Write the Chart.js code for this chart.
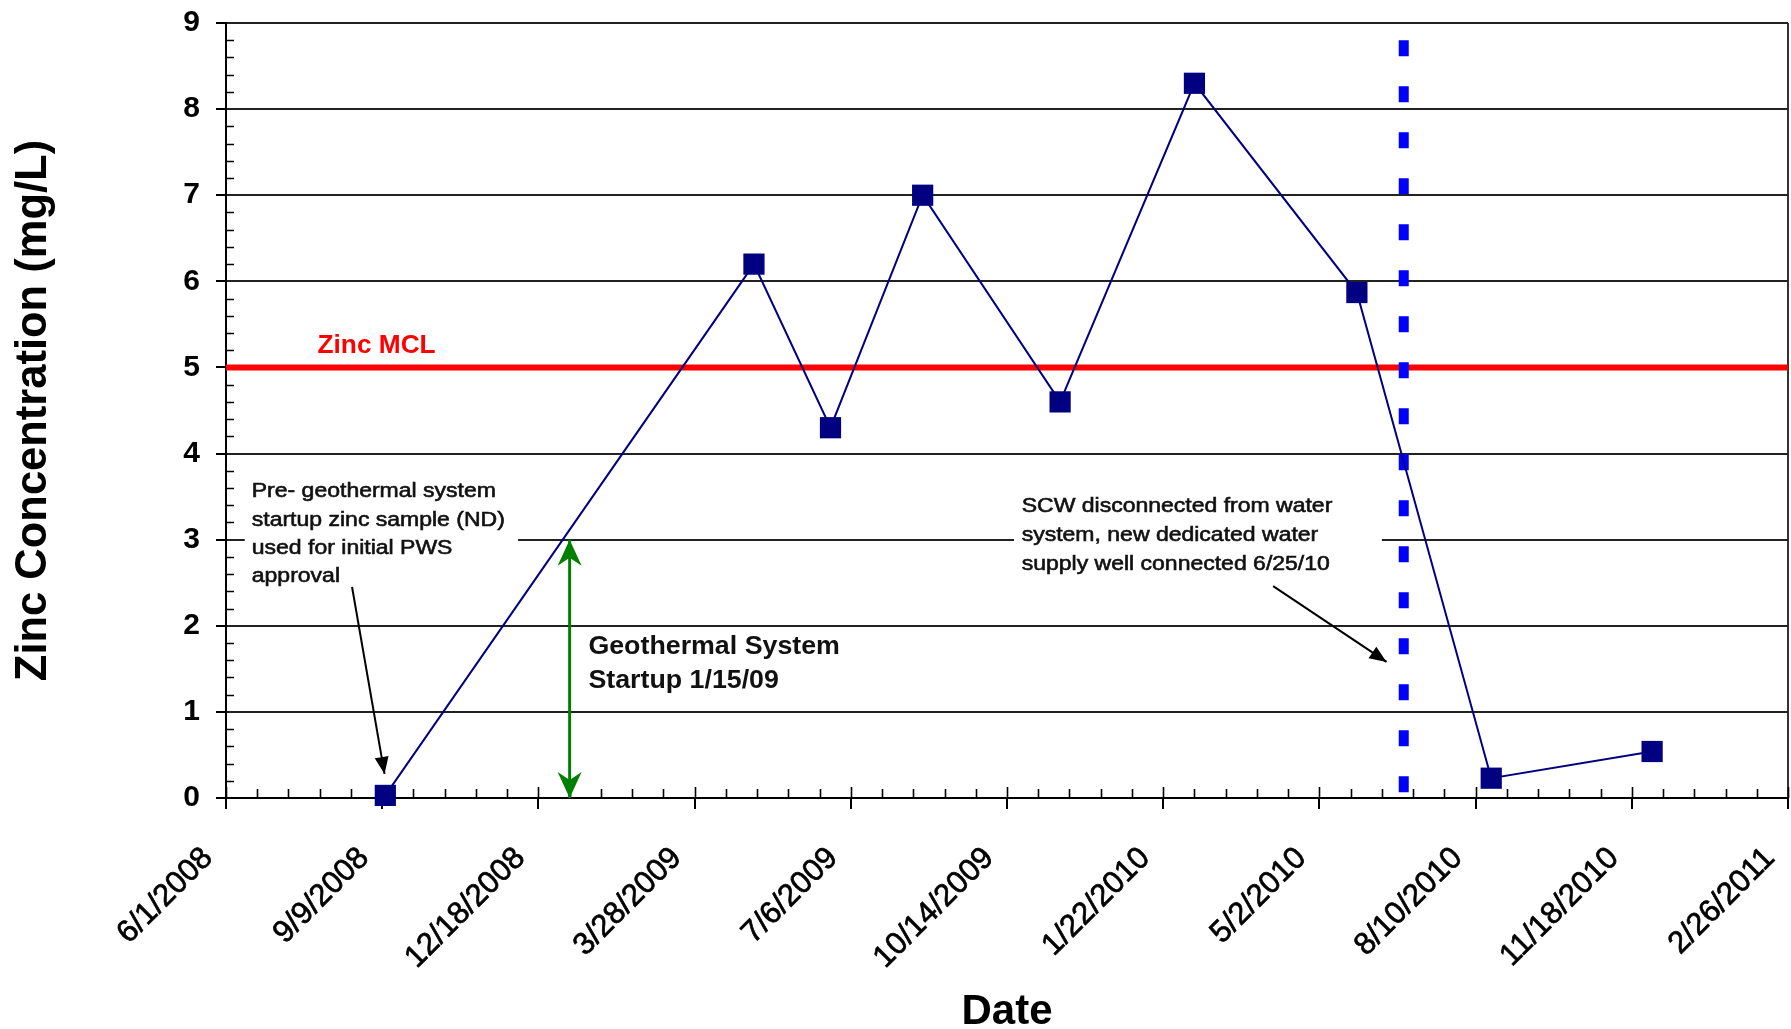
<!DOCTYPE html>
<html>
<head>
<meta charset="utf-8">
<title>Zinc Concentration</title>
<script src="https://cdn.jsdelivr.net/npm/chart.js@4.4.1/dist/chart.umd.min.js"></script>
<style>
	html, body { margin: 0; padding: 0; background: #fff; }
	#zincChart { display: block; }
</style>
</head>
<body>
<canvas id="zincChart" width="1791" height="1029"></canvas>
<script>
// sampling dates and zinc results (mg/L)
const sampleDates = ['9/11/2008', '5/5/2009', '6/23/2009', '8/21/2009', '11/17/2009', '2/11/2010', '5/26/2010', '8/20/2010', '12/1/2010'];
const zincValues = [0.03, 6.2, 4.3, 7.0, 4.6, 8.3, 5.87, 0.23, 0.54];

// axis ticks
const xTickDates = ['6/1/2008', '9/9/2008', '12/18/2008', '3/28/2009', '7/6/2009', '10/14/2009', '1/22/2010', '5/2/2010', '8/10/2010', '11/18/2010', '2/26/2011'];
const yTickValues = [0, 1, 2, 3, 4, 5, 6, 7, 8, 9];

// reference lines
const mclLevel = [5, 5];
const mclDates = ['6/1/2008', '2/26/2011'];
const startupDates = ['1/7/2009', '1/7/2009'];
const startupLevels = [0, 3];
const wellDates = ['6/25/2010', '6/25/2010'];
const wellLevels = [8.8, 0];

const FONT = "'Liberation Sans', Arial, sans-serif";
const ORIGIN = Date.UTC(2008, 5, 1);

function dayOf(s) {
	const [m, d, y] = s.split('/').map(Number);
	return (Date.UTC(y, m - 1, d) - ORIGIN) / 86400000;
}

function toPoints(dates, values) {
	return dates.map((d, i) => ({ x: dayOf(d), y: values[i] }));
}

function arrowHead(ctx, tx, ty, fx, fy, len, half, notch) {
	const a = Math.atan2(ty - fy, tx - fx);
	const c = Math.cos(a), s = Math.sin(a);
	const bx = tx - len * c, by = ty - len * s;
	ctx.beginPath();
	ctx.moveTo(tx, ty);
	ctx.lineTo(bx - half * s, by + half * c);
	ctx.lineTo(tx - (len - notch) * c, ty - (len - notch) * s);
	ctx.lineTo(bx + half * s, by - half * c);
	ctx.closePath();
	ctx.fill();
}

function drawLines(ctx, lines, px, py, gap, font, color, stretch, stroke) {
	ctx.font = font;
	ctx.fillStyle = color;
	ctx.strokeStyle = color;
	ctx.lineWidth = stroke;
	ctx.textAlign = 'left';
	ctx.textBaseline = 'alphabetic';
	lines.forEach((line, i) => {
		ctx.save();
		ctx.translate(px, py + i * gap);
		ctx.scale(stretch, 1);
		ctx.fillText(line, 0, 0);
		if (stroke) ctx.strokeText(line, 0, 0);
		ctx.restore();
	});
}

function noPadding(scale) {
	scale.paddingLeft = 0;
	scale.paddingRight = 0;
	scale.paddingTop = 0;
	scale.paddingBottom = 0;
}

const annotationPlugin = {
	id: 'zincAnnotations',
	beforeDatasetsDraw(chart) {
		const { ctx, scales: { x, y } } = chart;
		ctx.save();

		// white boxes behind the callouts
		ctx.fillStyle = '#fff';
		[[12, 3.78, 187, 2.39], [504.5, 3.58, 740, 2.53]].forEach(b => {
			const x0 = x.getPixelForValue(b[0]), y0 = y.getPixelForValue(b[1]);
			ctx.fillRect(x0, y0, x.getPixelForValue(b[2]) - x0, y.getPixelForValue(b[3]) - y0);
		});

		// minor and major tick marks inside the plot
		ctx.strokeStyle = '#000';
		ctx.lineWidth = 1.6;
		ctx.beginPath();
		for (let d = 0; d <= 1000; d += 20) {
			const px = Math.round(x.getPixelForValue(d)) + 0.5;
			ctx.moveTo(px, y.bottom);
			ctx.lineTo(px, y.bottom - (d % 100 === 0 ? 11 : 9));
		}
		for (let k = 1; k < 45; k++) {
			if (k % 5 === 0) continue;
			const py = Math.round(y.getPixelForValue(k / 5)) + 0.5;
			ctx.moveTo(x.left, py);
			ctx.lineTo(x.left + 8, py);
		}
		ctx.stroke();
		ctx.restore();
	},
	afterDatasetsDraw(chart) {
		const { ctx, scales: { x, y } } = chart;
		ctx.save();

		// green start-up arrow heads
		const gx = x.getPixelForValue(dayOf(startupDates[0]));
		const gTop = y.getPixelForValue(startupLevels[1]);
		const gBot = y.getPixelForValue(startupLevels[0]);
		ctx.fillStyle = '#008000';
		arrowHead(ctx, gx, gTop, gx, gBot, 26, 12, 8);
		arrowHead(ctx, gx, gBot, gx, gTop, 26, 12, 8);

		// black callout arrows
		ctx.strokeStyle = '#000';
		ctx.fillStyle = '#000';
		ctx.lineWidth = 2;
		[[80.7, 2.45, 101.5, 0.28], [670.4, 2.46, 743, 1.58]].forEach(a => {
			const x0 = x.getPixelForValue(a[0]), y0 = y.getPixelForValue(a[1]);
			const x1 = x.getPixelForValue(a[2]), y1 = y.getPixelForValue(a[3]);
			ctx.beginPath();
			ctx.moveTo(x0, y0);
			ctx.lineTo(x1, y1);
			ctx.stroke();
			arrowHead(ctx, x1, y1, x0, y0, 17, 7, 0);
		});

		// texts
		drawLines(ctx, ['Zinc MCL'], x.getPixelForValue(58.6), y.getPixelForValue(5.163), 0,
			`bold 25px ${FONT}`, '#ff0000', 1.05, 0);
		drawLines(ctx, ['Pre- geothermal system', 'startup zinc sample (ND)', 'used for initial PWS', 'approval'],
			x.getPixelForValue(16.5), y.getPixelForValue(3.49), 28.3, `20px ${FONT}`, '#111', 1.15, 0.6);
		drawLines(ctx, ['SCW disconnected from water', 'system, new dedicated water', 'supply well connected 6/25/10'],
			x.getPixelForValue(509.4), y.getPixelForValue(3.316), 28.8, `20px ${FONT}`, '#111', 1.15, 0.6);
		drawLines(ctx, ['Geothermal System', 'Startup 1/15/09'],
			x.getPixelForValue(232), y.getPixelForValue(1.678), 34, `bold 26px ${FONT}`, '#111', 1.03, 0);
		ctx.restore();
	}
};

new Chart(document.getElementById('zincChart'), {
	type: 'line',
	data: {
		datasets: [
			{
				label: 'Zinc',
				data: toPoints(sampleDates, zincValues),
				borderColor: '#000080',
				backgroundColor: '#000080',
				borderWidth: 2,
				pointStyle: 'rect',
				pointRadius: 15,
				pointBorderWidth: 0,
				pointBackgroundColor: '#000080',
				tension: 0,
				clip: false,
			},
			{
				label: 'Well switch',
				data: toPoints(wellDates, wellLevels),
				borderColor: '#0000ff',
				borderWidth: 10,
				borderDash: [16, 30],
				pointRadius: 0,
			},
			{
				label: 'Start-up',
				data: toPoints(startupDates, startupLevels),
				borderColor: '#008000',
				borderWidth: 3,
				pointRadius: 0,
			},
			{
				label: 'Zinc MCL',
				data: toPoints(mclDates, mclLevel),
				borderColor: '#ff0000',
				borderWidth: 6,
				pointRadius: 0,
				clip: false,
			},
		]
	},
	options: {
		responsive: false,
		animation: false,
		devicePixelRatio: 1,
		layout: { autoPadding: false, padding: { top: 23, right: 3, left: 0, bottom: 0 } },
		plugins: {
			legend: { display: false },
			tooltip: { enabled: false },
		},
		scales: {
			x: {
				type: 'linear',
				min: dayOf(xTickDates[0]),
				max: dayOf(xTickDates[xTickDates.length - 1]),
				afterBuildTicks: (scale) => {
					scale.ticks = xTickDates.map(s => ({ value: dayOf(s) }));
				},
				afterFit: (scale) => {
					scale.height = 231;
					noPadding(scale);
				},
				grid: {
					drawOnChartArea: true,
					color: (c) => (c.tick && c.index === xTickDates.length - 1 ? '#333' : 'rgba(0,0,0,0)'),
					tickColor: '#000',
					tickLength: 11,
					lineWidth: 2,
				},
				border: { display: true, color: '#000', width: 2 },
				ticks: {
					autoSkip: false,
					minRotation: 45,
					maxRotation: 45,
					padding: 31,
					labelOffset: -18,
					color: '#000',
					textStrokeColor: '#000',
					textStrokeWidth: 0.7,
					font: { family: FONT, size: 31 },
					callback: (v, i) => xTickDates[i],
				},
				title: {
					display: true,
					text: 'Date',
					color: '#000',
					font: { family: FONT, size: 42, weight: 'bold', lineHeight: 0.8 },
					padding: { top: 0, bottom: 0 },
				},
			},
			y: {
				min: yTickValues[0],
				max: yTickValues[yTickValues.length - 1],
				afterBuildTicks: (scale) => {
					scale.ticks = yTickValues.map(v => ({ value: v }));
				},
				afterFit: (scale) => {
					scale.width = 226;
					noPadding(scale);
				},
				grid: {
					color: '#222',
					tickColor: '#000',
					tickLength: 10,
					lineWidth: 2,
				},
				border: { display: true, color: '#000', width: 2 },
				ticks: {
					padding: 16,
					color: '#000',
					font: { family: FONT, size: 30, weight: 'bold' },
				},
				title: {
					display: true,
					text: 'Zinc Concentration (mg/L)',
					color: '#000',
					font: { family: FONT, size: 43.5, weight: 'bold' },
					padding: { top: 8, bottom: 0 },
				},
			},
		},
	},
	plugins: [annotationPlugin],
});
</script>
</body>
</html>
